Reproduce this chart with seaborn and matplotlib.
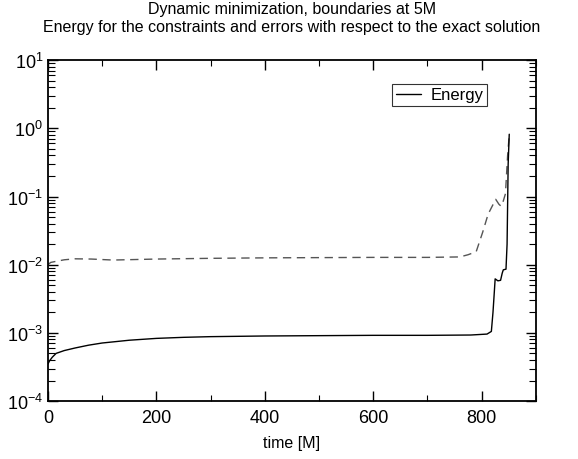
import matplotlib
matplotlib.use("Agg")
import matplotlib.pyplot as plt
import matplotlib.ticker as mticker
import seaborn as sns
import pandas as pd

# ---- data ----
energy_t = [0, 3, 8, 15, 30, 50, 75, 100, 150, 200, 250, 300, 400, 500, 600,
            700, 780, 810, 818, 821, 823, 825, 830, 835, 838, 840, 845, 847, 849, 851]
energy_v = [3.5e-4, 3.9e-4, 4.4e-4, 5.0e-4, 5.5e-4, 6.0e-4, 6.6e-4, 7.1e-4, 7.8e-4,
            8.3e-4, 8.6e-4, 8.8e-4, 9.0e-4, 9.1e-4, 9.2e-4, 9.2e-4, 9.3e-4, 9.6e-4,
            1.05e-3, 2.0e-3, 3.5e-3, 6.2e-3, 5.8e-3, 5.9e-3, 7.5e-3, 8.4e-3, 8.6e-3,
            2.0e-2, 3.0e-1, 8.2e-1]

error_t = [0, 5, 15, 30, 50, 80, 120, 160, 200, 300, 400, 500, 600, 700, 760,
           775, 790, 802, 812, 826, 832, 836, 840, 844, 848, 851]
error_v = [0.0100, 0.0108, 0.0112, 0.0118, 0.0122, 0.0121, 0.0117, 0.0119, 0.0121,
           0.0124, 0.0126, 0.0127, 0.0128, 0.0128, 0.0130, 0.0140, 0.0155, 0.030,
           0.055, 0.091, 0.077, 0.072, 0.086, 0.11, 0.40, 0.80]

title = "Dynamic minimization, boundaries at 5M\nEnergy for the constraints and errors with respect to the exact solution"

sns.set_theme(style="ticks")
plt.rcParams["font.family"] = ["Liberation Sans", "DejaVu Sans"]
plt.rcParams["mathtext.fontset"] = "custom"
plt.rcParams["mathtext.rm"] = "Liberation Sans"
plt.rcParams["mathtext.it"] = "Liberation Sans"
plt.rcParams["axes.unicode_minus"] = False
plt.rcParams["text.color"] = "black"
plt.rcParams["axes.labelcolor"] = "black"

fig = plt.figure(figsize=(5.78, 4.60), dpi=100)
ax = fig.add_axes([0.083, 0.126, 0.844, 0.741])

df_e = pd.DataFrame({"t": energy_t, "v": energy_v})
df_r = pd.DataFrame({"t": error_t, "v": error_v})

sns.lineplot(data=df_r, x="t", y="v", ax=ax, color="#555555", lw=1.0,
             linestyle=(0, (6, 4)), legend=False)
sns.lineplot(data=df_e, x="t", y="v", ax=ax, color="black", lw=1.0,
             label="Energy")

ax.set_yscale("log")
ax.set_xlim(0, 900)
ax.set_ylim(1e-4, 1e1)
ax.xaxis.set_major_locator(mticker.MultipleLocator(200))
ax.xaxis.set_minor_locator(mticker.MultipleLocator(100))
ax.yaxis.set_major_locator(mticker.LogLocator(base=10, numticks=10))
ax.yaxis.set_minor_locator(mticker.LogLocator(base=10, subs=range(2, 10), numticks=20))
ax.yaxis.set_minor_formatter(mticker.NullFormatter())

ax.tick_params(which="both", direction="in", top=True, right=True, colors="black",
               labelsize=13)
ax.tick_params(which="major", length=7, width=1)
ax.tick_params(which="minor", length=4, width=0.8)
ax.tick_params(axis="y", which="minor", length=5)
ax.tick_params(axis="x", which="major", pad=6)
for s in ax.spines.values():
    s.set_linewidth(1.3)
    s.set_color("black")

ax.set_xlabel("time [M]", fontsize=11.5, labelpad=6, color="black")
ax.set_ylabel("")
ax.set_title(title, fontsize=11.5, pad=21, linespacing=1.25, color="black")

leg = ax.legend(loc="upper right", bbox_to_anchor=(0.90, 0.93), fontsize=12,
                frameon=True, fancybox=False, edgecolor="black",
                handlelength=1.5, handletextpad=0.6, borderpad=0.2,
                borderaxespad=0)
leg.get_frame().set_linewidth(0.8)
for txt in leg.get_texts():
    txt.set_color("black")

fig.savefig("out.png", dpi=100)
